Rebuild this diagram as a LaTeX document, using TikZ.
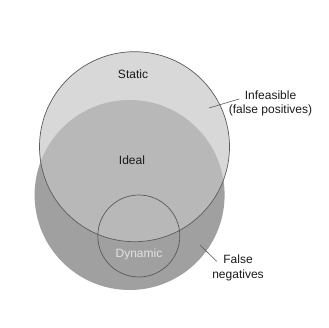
\documentclass[tikz,border=0pt]{standalone}
\usepackage{fontspec}
\setmainfont{Liberation Sans}
\usepackage{xcolor}
\definecolor{cLight}{HTML}{D8D8D8}
\definecolor{cMid}{HTML}{B8B8B8}
\definecolor{cDark}{HTML}{A0A0A0}
\definecolor{cEdge}{HTML}{5A5A5A}
\definecolor{cText}{HTML}{1A1A1A}
\definecolor{cPale}{HTML}{E2E2E2}
\usepackage{tikz}
\usetikzlibrary{positioning,calc}
\tikzset{
  set-circle/.style={circle,inner sep=0pt,minimum size=#1},
  set-edge/.style={draw=cEdge,line width=0.7pt},
  set-label/.style={text=cText,font=\fontsize{12}{14.5}\selectfont,align=center},
  leader/.style={draw=cEdge,line width=0.6pt},
}

\begin{document}
\begin{tikzpicture}[x=1pt,y=-1pt]
  \useasboundingbox (0,0) rectangle (329,328);
  % sets: static analysis vs. all behaviours seen at run time
  \node[set-circle=190pt,fill=cDark] (ideal) at (129.6,195) {};
  \node[set-circle=190pt,fill=cLight] (static) at (134.5,146.7) {};
  \begin{scope}
    \clip (ideal.center) circle[radius=95pt];
    \fill[cMid] (static.center) circle[radius=95pt];
  \end{scope}
  \draw[set-edge] (static.center) circle[radius=95pt];
  \node[set-circle=82pt,set-edge] (dyn) at (138.8,236) {};
  % labels
  \node[set-label] (l-static) at (133,74) {Static};
  \node[set-label] (l-ideal) at (132,160) {Ideal};
  \node[set-label,text=cPale] (l-dyn) at (139,254) {Dynamic};
  \node[set-label] (l-infeas) at (270.5,103.5) {Infeasible\\(false positives)};
  \node[set-label] (l-fneg) at (238,268) {False\\negatives};
  \coordinate (p-infeas) at (209,108);
  \coordinate (p-fneg) at (200,245);
  \draw[leader] (p-infeas) -- ($(l-infeas.north west)!0.36!(l-infeas.south west)+(14,0)$);
  \draw[leader] (p-fneg) -- ($(l-fneg.north west)!0.30!(l-fneg.south west)+(8,0)$);
\end{tikzpicture}
\end{document}
